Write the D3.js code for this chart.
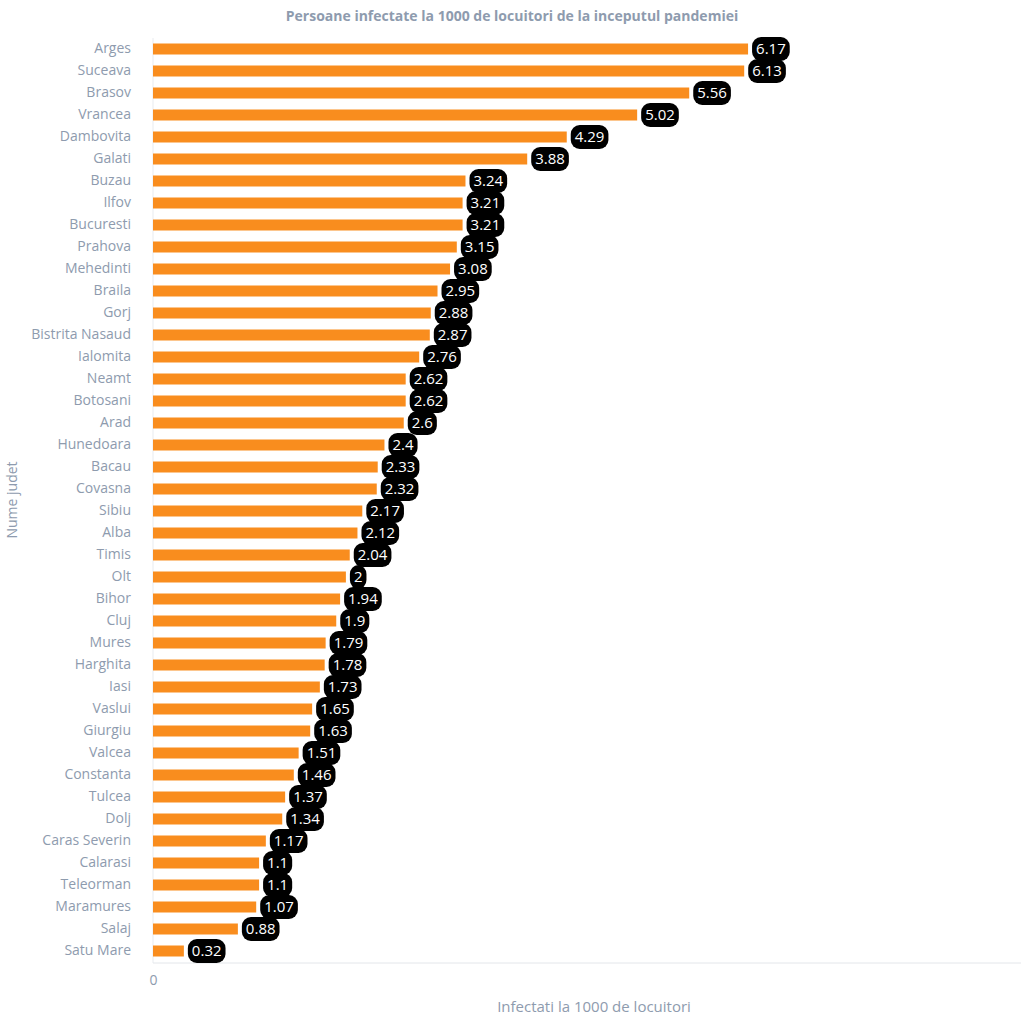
<!DOCTYPE html>
<html><head><meta charset="utf-8">
<script src="https://cdn.jsdelivr.net/npm/d3@7"></script>
<style>body{margin:0;background:#fff;font-family:"Open Sans",sans-serif;}</style>
</head><body>
<svg id="chart" width="1024" height="1022"></svg>
<script>
const counties = ["Arges","Suceava","Brasov","Vrancea","Dambovita","Galati","Buzau","Ilfov","Bucuresti","Prahova","Mehedinti","Braila","Gorj","Bistrita Nasaud","Ialomita","Neamt","Botosani","Arad","Hunedoara","Bacau","Covasna","Sibiu","Alba","Timis","Olt","Bihor","Cluj","Mures","Harghita","Iasi","Vaslui","Giurgiu","Valcea","Constanta","Tulcea","Dolj","Caras Severin","Calarasi","Teleorman","Maramures","Salaj","Satu Mare"];
const values = [6.17,6.13,5.56,5.02,4.29,3.88,3.24,3.21,3.21,3.15,3.08,2.95,2.88,2.87,2.76,2.62,2.62,2.6,2.4,2.33,2.32,2.17,2.12,2.04,2,1.94,1.9,1.79,1.78,1.73,1.65,1.63,1.51,1.46,1.37,1.34,1.17,1.1,1.1,1.07,0.88,0.32];
const xTicks = [0];
const chartTitle = "Persoane infectate la 1000 de locuitori de la inceputul pandemiei";
const xTitle = "Infectati la 1000 de locuitori";
const yTitle = "Nume judet";

const data = counties.map((c,i)=>({c, v: values[i]}));
const svg = d3.select("#chart");
const mLeft = 153, mRight = 1021, mTop = 38, mBottom = 962;
const x = d3.scaleLinear().domain([0, 9]).range([mLeft, mRight]);
const y = d3.scaleBand().domain(counties).range([mTop, mBottom]).paddingInner(0.5).paddingOuter(0.25);
const gray = "#8e9bae";

svg.append("text").attr("x", 512).attr("y", 21).attr("text-anchor","middle")
  .attr("font-size", 14).attr("font-weight", "bold").attr("fill", gray).text(chartTitle);

svg.append("line").attr("x1", mLeft).attr("x2", mLeft).attr("y1", mTop).attr("y2", mBottom + 1).attr("stroke", "#e8ebef");
svg.append("line").attr("x1", mLeft).attr("x2", mRight).attr("y1", mBottom + 1).attr("y2", mBottom + 1).attr("stroke", "#e3e6ea");

const yAxis = svg.append("g").attr("transform", `translate(${mLeft},0)`)
  .call(d3.axisLeft(y).tickSize(0).tickPadding(22));
yAxis.select(".domain").remove();
yAxis.selectAll("text").attr("font-family","Open Sans").attr("font-size", 14).attr("fill", gray);

const xAxis = svg.append("g").attr("transform", `translate(0,${mBottom})`)
  .call(d3.axisBottom(x).tickValues(xTicks).tickSize(0).tickPadding(13).tickFormat(d3.format("d")));
xAxis.select(".domain").remove();
xAxis.selectAll("text").attr("font-family","Open Sans").attr("font-size", 14).attr("fill", gray);

svg.append("g").selectAll("rect").data(data).join("rect")
  .attr("x", x(0)).attr("y", d => y(d.c)).attr("width", d => x(d.v) - x(0))
  .attr("height", y.bandwidth()).attr("fill", "#f98d1e");

const lg = svg.append("g").selectAll("g").data(data).join("g")
  .attr("transform", d => `translate(${x(d.v) + 4},${y(d.c) + y.bandwidth()/2})`);
lg.each(function(d){
  const g = d3.select(this);
  const rect = g.append("rect").attr("fill", "#000");
  const t = g.append("text").attr("x", 4).attr("y", 0).attr("dy", "0.35em")
    .attr("font-family","Open Sans").attr("font-size", 15).attr("fill", "#fff").text(d.v);
  const w = t.node().getComputedTextLength();
  rect.attr("x", 0).attr("y", -12).attr("width", w + 8).attr("height", 24).attr("rx", 9).attr("ry", 9);
});

svg.append("text").attr("x", (mLeft+mRight)/2 + 7).attr("y", 1012).attr("text-anchor","middle")
  .attr("font-size", 15).attr("fill", gray).text(xTitle);
svg.append("text").attr("transform", "translate(17,500) rotate(-90)").attr("text-anchor","middle")
  .attr("font-size", 14).attr("fill", gray).text(yTitle);
</script>
</body></html>
